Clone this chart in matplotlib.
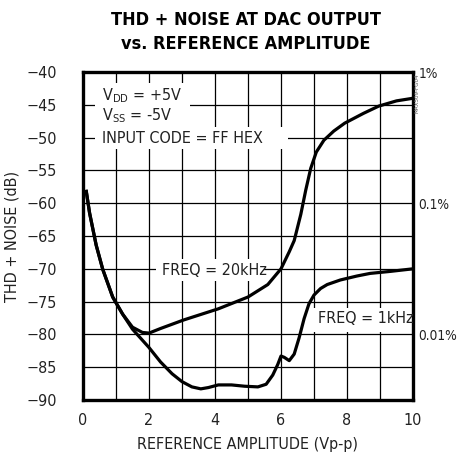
import matplotlib
matplotlib.use("Agg")
import matplotlib.pyplot as plt
from matplotlib.patches import Rectangle

plt.rcParams['font.family'] = ['DejaVu Sans']
plt.rcParams['font.stretch'] = 'condensed'

# 1kHz curve
x_1k = [0.1, 0.2, 0.4, 0.6, 0.9, 1.2, 1.5, 1.75, 2.0, 2.35, 2.7, 3.0, 3.3, 3.57,
        3.8, 4.1, 4.5, 4.9, 5.3, 5.55, 5.75, 5.9, 6.0, 6.1, 6.25, 6.4, 6.55, 6.7,
        6.85, 7.0, 7.2, 7.4, 7.8, 8.3, 8.7, 9.3, 10.0]
y_1k = [-58.2, -61.5, -66.4, -70.1, -74.3, -76.9, -79.2, -80.6, -82.0, -84.2, -86.0,
        -87.2, -88.0, -88.3, -88.1, -87.7, -87.7, -87.9, -88.0, -87.6, -86.2, -84.6,
        -83.3, -83.5, -84.0, -83.0, -80.5, -77.6, -75.3, -74.0, -73.0, -72.4, -71.7,
        -71.1, -70.7, -70.4, -70.0]

# 20kHz curve
x_20k = [0.1, 0.2, 0.4, 0.6, 0.9, 1.2, 1.5, 1.8, 2.0, 2.35, 3.05, 4.1, 5.0, 5.6,
         6.0, 6.25, 6.4, 6.6, 6.75, 6.9, 7.07, 7.3, 7.6, 7.93, 8.5, 8.96, 9.5, 10.0]
y_20k = [-58.2, -61.5, -66.4, -70.1, -74.3, -76.9, -78.9, -79.7, -79.8, -79.1, -77.8,
         -76.1, -74.3, -72.4, -70.0, -67.4, -65.7, -61.7, -58.0, -54.7, -52.2, -50.4,
         -49.0, -47.8, -46.3, -45.2, -44.4, -44.0]

x_ticks = [0, 2, 4, 6, 8, 10]
y_ticks = [-40, -45, -50, -55, -60, -65, -70, -75, -80, -85, -90]
pct_ticks = [-40, -60, -80]
pct_labels = ['1%', '0.1%', '0.01%']

fig = plt.figure(figsize=(4.59, 4.61), dpi=100)
ax = fig.add_axes([0.1808, 0.1323, 0.719, 0.7115])

ax.set_xlim(0, 10)
ax.set_ylim(-90, -40)
ax.set_xticks(x_ticks)
ax.set_xticks(range(0, 11), minor=True)
ax.set_yticks(y_ticks)
ax.grid(True, which='both', axis='x', color='black', lw=0.9)
ax.grid(True, which='major', axis='y', color='black', lw=0.9)
ax.set_axisbelow(True)
ax.tick_params(which='both', length=0, labelcolor='#222222')
ax.tick_params(axis='x', pad=9, labelsize=11.5)
ax.tick_params(axis='y', pad=19, labelsize=11.5)
for s in ax.spines.values():
    s.set_linewidth(2.4)

# white boxes behind the annotations
for (x0, y0, w, h) in [(0.35, -48.5, 2.9, 6.8), (0.35, -51.8, 5.85, 3.4),
                       (2.2, -71.8, 3.3, 3.3), (6.97, -79.6, 2.85, 3.7)]:
    ax.add_patch(Rectangle((x0, y0), w, h, facecolor='white', edgecolor='none', zorder=1.5))

ax.plot(x_1k, y_1k, color='black', lw=2.3, zorder=3)
ax.plot(x_20k, y_20k, color='black', lw=2.3, zorder=3)

tk = dict(fontsize=11.5, color='#222222', zorder=4)
ax.text(0.57, -43.6, r'V$_{\mathsf{DD}}$ = +5V', va='center', **tk)
ax.text(0.57, -46.6, r'V$_{\mathsf{SS}}$ = -5V', va='center', **tk)
ax.text(0.57, -50.1, 'INPUT CODE = FF HEX', va='center', **tk)
ax.text(2.39, -70.2, 'FREQ = 20kHz', va='center', **tk)
ax.text(7.12, -77.5, 'FREQ = 1kHz', va='center', **tk)

ax2 = ax.twinx()
ax2.set_ylim(-90, -40)
ax2.set_yticks(pct_ticks)
ax2.set_yticklabels(pct_labels)
ax2.tick_params(length=0, pad=4, labelsize=9.8, labelcolor='#222222')
for s in ax2.spines.values():
    s.set_visible(False)

ax.text(10.115, -40.3, 'MAX509-FG04', rotation=90, fontsize=4.5, color='#555555',
        ha='center', va='top', clip_on=False)

ax.set_xlabel('REFERENCE AMPLITUDE (Vp-p)', fontsize=11.5, labelpad=7, color='#222222')
ax.set_ylabel('THD + NOISE (dB)', fontsize=11.5, labelpad=5, color='#222222')

fig.text(0.535, 0.957, 'THD + NOISE AT DAC OUTPUT', ha='center', va='center',
         fontsize=13, fontweight='bold')
fig.text(0.535, 0.905, 'vs. REFERENCE AMPLITUDE', ha='center', va='center',
         fontsize=13, fontweight='bold')

fig.savefig('out.png', dpi=100)
